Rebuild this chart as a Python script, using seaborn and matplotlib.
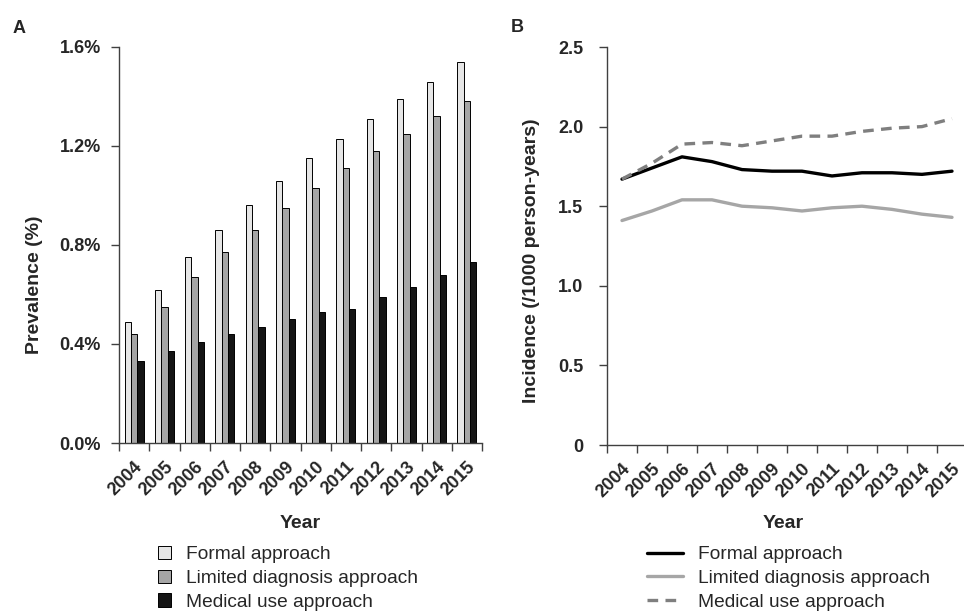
import pandas as pd
import seaborn as sns
import matplotlib.pyplot as plt
from matplotlib.ticker import FixedLocator, FuncFormatter

# Data
years = list(range(2004, 2016))
series = ["Formal approach", "Limited diagnosis approach", "Medical use approach"]

prev_formal = [0.49, 0.62, 0.75, 0.86, 0.96, 1.06, 1.15, 1.23, 1.31, 1.39, 1.46, 1.54]
prev_limited = [0.44, 0.55, 0.67, 0.77, 0.86, 0.95, 1.03, 1.11, 1.18, 1.25, 1.32, 1.38]
prev_medical = [0.33, 0.37, 0.41, 0.44, 0.47, 0.50, 0.53, 0.54, 0.59, 0.63, 0.68, 0.73]

inc_formal = [1.67, 1.74, 1.81, 1.78, 1.73, 1.72, 1.72, 1.69, 1.71, 1.71, 1.70, 1.72]
inc_limited = [1.41, 1.47, 1.54, 1.54, 1.50, 1.49, 1.47, 1.49, 1.50, 1.48, 1.45, 1.43]
inc_medical = [1.67, 1.77, 1.89, 1.90, 1.88, 1.91, 1.94, 1.94, 1.97, 1.99, 2.00, 2.05]

bar_colors = ["#e6e6e6", "#a5a5a5", "#151515"]
line_colors = ["#000000", "#a6a6a6", "#7f7f7f"]

prev = pd.DataFrame({
    "Year": [str(y) for y in years] * 3,
    "Prevalence": prev_formal + prev_limited + prev_medical,
    "Approach": [s for s in series for _ in years],
})
inc = pd.DataFrame({
    "Year": years * 3,
    "Incidence": inc_formal + inc_limited + inc_medical,
    "Approach": [s for s in series for _ in years],
})

sns.set_style("white")
plt.rcParams["font.family"] = ["Liberation Sans", "DejaVu Sans"]
axis_col = "#404040"

fig = plt.figure(figsize=(9.64, 6.16), dpi=100)
axA = fig.add_axes([119 / 964, 1 - 443 / 616, 363 / 964, 396 / 616])
axB = fig.add_axes([607 / 964, 1 - 445 / 616, 360 / 964, 398 / 616])

# Panel A: bars
sns.barplot(data=prev, x="Year", y="Prevalence", hue="Approach", palette=bar_colors,
            width=0.62, edgecolor="black", linewidth=0.7, ax=axA)
axA.set_xlim(-0.5, len(years) - 0.5)
axA.set_ylim(0, 1.6)
axA.set_yticks([0, 0.4, 0.8, 1.2, 1.6])
axA.yaxis.set_major_formatter(FuncFormatter(lambda v, p: f"{v:.1f}%"))

# Panel B: lines
sns.lineplot(data=inc, x="Year", y="Incidence", hue="Approach", style="Approach",
             palette=line_colors, dashes={series[0]: "", series[1]: "", series[2]: (3.2, 2.2)},
             linewidth=2.4, ax=axB)
axB.set_xlim(years[0] - 0.5, years[-1] + 0.5)
axB.set_ylim(0, 2.5)
axB.set_yticks([0, 0.5, 1.0, 1.5, 2.0, 2.5])
axB.yaxis.set_major_formatter(FuncFormatter(lambda v, p: "0" if v == 0 else f"{v:.1f}"))

for ax, centers in [(axA, list(range(len(years)))), (axB, years)]:
    c0 = centers[0]
    bounds = [c0 - 0.5 + i for i in range(len(years) + 1)]
    ax.xaxis.set_major_locator(FixedLocator(bounds))
    ax.xaxis.set_major_formatter(FuncFormatter(lambda v, p: ""))
    ax.xaxis.set_minor_locator(FixedLocator(centers))
    ax.set_xticklabels([str(y) for y in years], minor=True)
    ax.tick_params(axis="x", which="major", direction="out", length=6, width=1, color=axis_col, bottom=True)
    ax.tick_params(axis="x", which="minor", length=0, pad=11, labelsize=13)
    ax.tick_params(axis="y", direction="out", length=6, width=1, color=axis_col, left=True, labelsize=13)
    for lbl in ax.get_xticklabels(minor=True):
        lbl.set_rotation(45)
        lbl.set_ha("right")
        lbl.set_rotation_mode("anchor")
        lbl.set_fontweight("bold")
    for lbl in ax.get_yticklabels():
        lbl.set_fontweight("bold")
    for s in ["top", "right"]:
        ax.spines[s].set_visible(False)
    for s in ["left", "bottom"]:
        ax.spines[s].set_color(axis_col)
        ax.spines[s].set_linewidth(1)
    ax.set_xlabel("Year", fontsize=14, fontweight="bold")

axA.tick_params(axis="y", pad=7)
axB.tick_params(axis="y", pad=11)

axA.set_ylabel("Prevalence (%)", fontsize=14, fontweight="bold")
axB.set_ylabel("Incidence (/1000 person-years)", fontsize=14, fontweight="bold")
axA.yaxis.set_label_coords(-0.21, 0.40)
axB.yaxis.set_label_coords(-0.187, 0.462)
axA.xaxis.set_label_coords(0.5, -0.182)
axB.xaxis.set_label_coords(0.49, -0.176)

# Legends below each panel
hA, lA = axA.get_legend_handles_labels()
axA.legend(hA, lA, loc="upper left", bbox_to_anchor=(158 / 964, 1 - 546 / 616),
           bbox_transform=fig.transFigure, frameon=False, fontsize=13.8,
           borderaxespad=0, borderpad=0, handlelength=0.7, handleheight=0.7,
           handletextpad=0.75, labelspacing=0.33)
hB, lB = axB.get_legend_handles_labels()
axB.legend(hB, lB, loc="upper left", bbox_to_anchor=(647 / 964, 1 - 546 / 616),
           bbox_transform=fig.transFigure, frameon=False, fontsize=13.8,
           borderaxespad=0, borderpad=0, handlelength=1.9,
           handletextpad=0.75, labelspacing=0.33)

fig.text(13 / 964, 1 - 20 / 616, "A", fontsize=13, fontweight="bold", va="top", ha="left")
fig.text(511 / 964, 1 - 19 / 616, "B", fontsize=13, fontweight="bold", va="top", ha="left")

fig.savefig("out.png", dpi=100)
